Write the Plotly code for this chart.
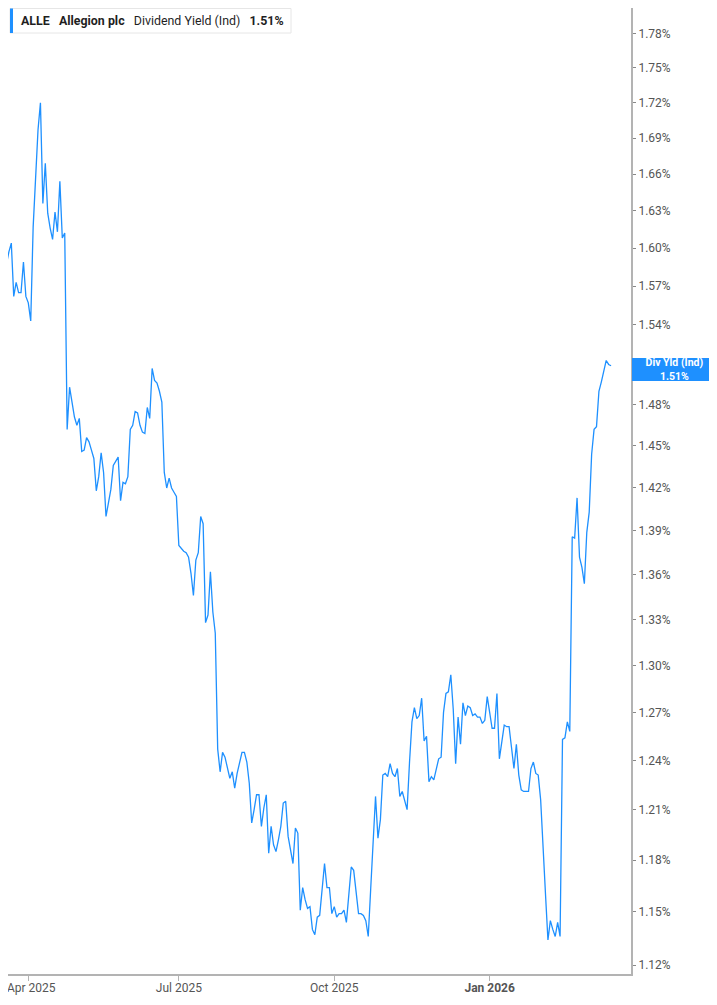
import numpy as np
import pandas as pd
import plotly.graph_objects as go

# trading calendar for the series (weekends + US market holidays are skipped on the axis)
start_date = "2025-03-14"
end_date = "2026-03-17"
market_holidays = ["2025-04-18", "2025-05-26", "2025-06-19", "2025-07-04", "2025-09-01",
                   "2025-11-27", "2025-12-25", "2026-01-01", "2026-01-19", "2026-02-16"]

# ALLE indicated dividend yield, % (one value per trading day)
div_yield = [
    1.606, 1.599, 1.591, 1.587, 1.597, 1.604, 1.562, 1.573, 1.565, 1.565,
    1.589, 1.562, 1.557, 1.543, 1.617, 1.658, 1.697, 1.720, 1.636, 1.669,
    1.628, 1.616, 1.607, 1.629, 1.613, 1.654, 1.608, 1.612, 1.462, 1.493,
    1.482, 1.471, 1.465, 1.470, 1.446, 1.447, 1.456, 1.453, 1.447, 1.441,
    1.418, 1.428, 1.445, 1.431, 1.400, 1.410, 1.419, 1.436, 1.439, 1.442,
    1.411, 1.424, 1.423, 1.428, 1.462, 1.465, 1.475, 1.474, 1.465, 1.460,
    1.459, 1.478, 1.470, 1.507, 1.498, 1.496, 1.490, 1.482, 1.431, 1.420,
    1.427, 1.420, 1.417, 1.414, 1.380, 1.378, 1.376, 1.375, 1.372, 1.361,
    1.346, 1.370, 1.375, 1.400, 1.395, 1.328, 1.333, 1.362, 1.335, 1.321,
    1.247, 1.233, 1.245, 1.242, 1.236, 1.229, 1.233, 1.223, 1.232, 1.239,
    1.245, 1.245, 1.239, 1.226, 1.202, 1.210, 1.219, 1.219, 1.200, 1.211,
    1.219, 1.184, 1.200, 1.189, 1.185, 1.192, 1.200, 1.214, 1.215, 1.194,
    1.186, 1.178, 1.199, 1.196, 1.151, 1.164, 1.157, 1.152, 1.153, 1.140,
    1.137, 1.147, 1.148, 1.163, 1.178, 1.164, 1.164, 1.149, 1.153, 1.147,
    1.149, 1.149, 1.151, 1.144, 1.161, 1.176, 1.174, 1.161, 1.149, 1.149,
    1.148, 1.145, 1.136, 1.163, 1.188, 1.218, 1.193, 1.204, 1.231, 1.232,
    1.230, 1.238, 1.232, 1.230, 1.235, 1.218, 1.221, 1.216, 1.210, 1.239,
    1.264, 1.273, 1.266, 1.268, 1.279, 1.252, 1.255, 1.227, 1.230, 1.228,
    1.234, 1.241, 1.242, 1.270, 1.282, 1.283, 1.294, 1.272, 1.238, 1.267,
    1.250, 1.276, 1.268, 1.274, 1.273, 1.268, 1.269, 1.267, 1.267, 1.263,
    1.265, 1.280, 1.270, 1.260, 1.260, 1.282, 1.241, 1.253, 1.262, 1.261,
    1.261, 1.248, 1.235, 1.250, 1.231, 1.222, 1.221, 1.221, 1.221, 1.235,
    1.239, 1.232, 1.231, 1.216, 1.183, 1.160, 1.134, 1.145, 1.140, 1.136,
    1.144, 1.136, 1.253, 1.254, 1.264, 1.258, 1.386, 1.385, 1.413, 1.372,
    1.365, 1.354, 1.389, 1.403, 1.444, 1.462, 1.464, 1.490, 1.497, 1.506,
    1.513, 1.510, 1.509,
]

x_tick_dates = ["2025-04-01", "2025-07-01", "2025-10-01", "2026-01-02"]
x_tick_labels = ["&nbsp;&nbsp;Apr 2025", "Jul 2025", "Oct 2025", "<b>Jan 2026</b>"]
y_ticks = [1.12, 1.15, 1.18, 1.21, 1.24, 1.27, 1.30, 1.33, 1.36, 1.39, 1.42, 1.45,
           1.48, 1.51, 1.54, 1.57, 1.60, 1.63, 1.66, 1.69, 1.72, 1.75, 1.78, 1.81]

dates = pd.bdate_range(start_date, end_date, freq="C", holidays=market_holidays)
df = pd.DataFrame({"date": dates, "yield": div_yield})

line_blue = "#1e90ff"
axis_grey = "#b3b3b3"
font_name = "Roboto, Arial, sans-serif"

# the page body keeps its default 8px margin, so the figure is sized to sit inside it
fig_w, fig_h = 709, 989
plot_w, plot_h = 623, 966

fig = go.Figure()
fig.add_trace(go.Scatter(
    x=df["date"], y=df["yield"], mode="lines",
    line=dict(color=line_blue, width=1.3),
    hoverinfo="x+y", showlegend=False))

fig.update_layout(
    width=fig_w, height=fig_h,
    margin=dict(l=0, r=fig_w - plot_w, t=0, b=fig_h - plot_h),
    paper_bgcolor="white", plot_bgcolor="white",
    font=dict(family=font_name, size=12, color="#555555"),
)

fig.update_xaxes(
    range=["2025-03-19 15:20", "2026-03-27 05:00"],
    rangebreaks=[dict(bounds=["sat", "mon"]), dict(values=market_holidays)],
    tickvals=x_tick_dates, ticktext=x_tick_labels,
    showgrid=False, zeroline=False, automargin=False,
    showline=True, linecolor=axis_grey, linewidth=2,
    ticks="outside", ticklen=5, tickcolor=axis_grey, ticklabelstandoff=-3,
    ticklabeloverflow="allow",
    tickfont=dict(family=font_name, size=12, color="#555555"),
)

fig.update_yaxes(
    type="log", side="right",
    range=[np.log10(1.1150), np.log10(1.8030)],
    tickvals=y_ticks, ticktext=[f"{v:.2f}%" for v in y_ticks],
    showgrid=False, zeroline=False, automargin=False,
    showline=True, linecolor=axis_grey, linewidth=2,
    ticks="outside", ticklen=3, tickcolor="#888888",
    tickfont=dict(family=font_name, size=12, color="#555555"),
)

# header box top-left
box_x0, box_x1, box_y0, box_y1 = 2, 283, 0.5, 25
fig.add_shape(type="rect", xref="paper", yref="paper",
              x0=box_x0 / plot_w, x1=box_x1 / plot_w,
              y0=1 - box_y1 / plot_h, y1=1 - box_y0 / plot_h,
              line=dict(color="#e6e6e6", width=1), fillcolor="white", layer="above")
fig.add_shape(type="rect", xref="paper", yref="paper",
              x0=box_x0 / plot_w, x1=(box_x0 + 3) / plot_w,
              y0=1 - box_y1 / plot_h, y1=1 - box_y0 / plot_h,
              line=dict(width=0), fillcolor=line_blue, layer="above")
fig.add_annotation(
    xref="paper", yref="paper", x=11 / plot_w, y=1 - 12.8 / plot_h,
    xanchor="left", yanchor="middle", showarrow=False,
    text="<b>ALLE</b>&nbsp;&nbsp;&nbsp;<b>Allegion plc</b>&nbsp;&nbsp;&nbsp;Dividend Yield (Ind)"
         f"&nbsp;&nbsp;&nbsp;<b>{div_yield[-1]:.2f}%</b>",
    font=dict(family=font_name, size=12.4, color="#1f1f1f"))

# last value label on the right axis
fig.add_annotation(
    xref="paper", yref="y", x=1, y=np.log10(div_yield[-1]),
    xanchor="left", yanchor="middle", xshift=1, yshift=-4, showarrow=False,
    text=f"<b>Div Yld (Ind)</b><br><b>{div_yield[-1]:.2f}%</b>",
    width=85, height=23, align="center", bgcolor=line_blue, borderpad=0,
    borderwidth=0, font=dict(family=font_name, size=10.5, color="white"))

fig.write_html("out.html")
